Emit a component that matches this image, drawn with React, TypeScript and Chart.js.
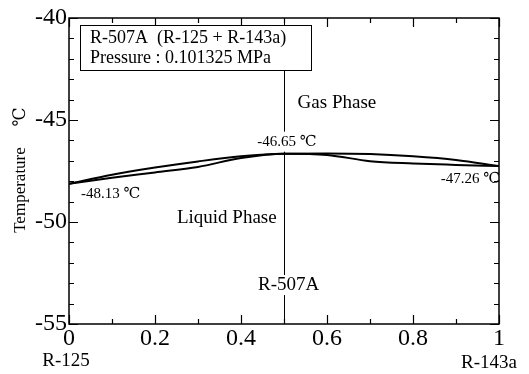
import React, { useEffect, useRef } from "react";
import { Chart, registerables } from "chart.js";

Chart.register(...registerables);

// ---- data ----
const composition = [0, 0.1, 0.2, 0.3, 0.4, 0.5, 0.6, 0.7, 0.8, 0.9, 1];
const dewTemps = [-48.13, -47.68, -47.33, -47.03, -46.78, -46.65, -46.64, -46.67, -46.78, -46.96, -47.26];
const bubbleTemps = [-48.13, -47.83, -47.57, -47.30, -46.86, -46.65, -46.71, -47.02, -47.13, -47.20, -47.26];
const xTickValues = [0, 0.2, 0.4, 0.6, 0.8, 1];
const yTickValues = [-55, -50, -45, -40];
const xMinorStep = 0.1;
const yMinorStep = 1;
const legendLines = ["R-507A  (R-125 + R-143a)", "Pressure : 0.101325 MPa"];
const azeotropeX = 0.5;
const azeotropeT = -46.65;
const leftT = -48.13;
const rightT = -47.26;
const yTitle = "Temperature";
const yUnit = "℃";
const leftComponent = "R-125";
const rightComponent = "R-143a";

const SERIF = '"Liberation Serif", "Times New Roman", "DejaVu Serif", serif';
const UNIT_FONT = '"Liberation Serif", "DejaVu Serif", "Noto Sans CJK JP", serif';

function textWithBg(ctx: CanvasRenderingContext2D, text: string, cx: number, cy: number, font: string, align: CanvasTextAlign, bg: boolean) {
  ctx.font = font;
  ctx.textAlign = align;
  ctx.textBaseline = "middle";
  if (bg) {
    const w = ctx.measureText(text).width;
    let left = cx;
    if (align === "center") left = cx - w / 2;
    else if (align === "right") left = cx - w;
    ctx.fillStyle = "#fff";
    ctx.fillRect(left - 2, cy - 10, w + 4, 20);
  }
  ctx.fillStyle = "#000";
  ctx.fillText(text, cx, cy);
}

const decorPlugin = {
  id: "decor",
  beforeDatasetsDraw(chart: any) {
    const { ctx, chartArea: a, scales } = chart;
    const x = scales.x;
    ctx.save();
    ctx.strokeStyle = "#000";
    ctx.lineWidth = 1;
    const xm = Math.round(x.getPixelForValue(azeotropeX)) + 0.5;
    ctx.beginPath();
    ctx.moveTo(xm, a.top);
    ctx.lineTo(xm, a.bottom);
    ctx.stroke();
    ctx.restore();
  },
  afterDatasetsDraw(chart: any) {
    const { ctx, chartArea: a, scales } = chart;
    const x = scales.x;
    const y = scales.y;
    ctx.save();
    // frame
    ctx.strokeStyle = "#000";
    ctx.lineWidth = 1.5;
    ctx.strokeRect(a.left, a.top, a.right - a.left, a.bottom - a.top);
    // y ticks (left/right)
    ctx.lineWidth = 1.2;
    ctx.beginPath();
    for (let v = y.min; v <= y.max + 1e-9; v += yMinorStep) {
      const p = Math.round(y.getPixelForValue(v)) + 0.5;
      const major = Math.abs(v % 5) < 1e-6;
      const len = major ? 9 : 5;
      ctx.moveTo(a.left, p);
      ctx.lineTo(a.left + len, p);
      ctx.moveTo(a.right, p);
      ctx.lineTo(a.right - len, p);
    }
    // x ticks (top/bottom)
    for (let i = 0; i <= Math.round((x.max - x.min) / xMinorStep); i++) {
      const v = x.min + i * xMinorStep;
      const p = Math.round(x.getPixelForValue(v)) + 0.5;
      const major = i % 2 === 0;
      const len = major ? 9 : 5;
      ctx.moveTo(p, a.bottom);
      ctx.lineTo(p, a.bottom - len);
      ctx.moveTo(p, a.top);
      ctx.lineTo(p, a.top + len);
    }
    ctx.stroke();

    // annotations
    const px = (v: number) => x.getPixelForValue(v);
    const py = (v: number) => y.getPixelForValue(v);
    textWithBg(ctx, "Gas Phase", px(0.623), py(-44.17), `19px ${SERIF}`, "center", false);
    textWithBg(ctx, "Liquid Phase", px(0.367), py(-49.8), `19px ${SERIF}`, "center", false);
    textWithBg(ctx, `${azeotropeT.toFixed(2)} ${yUnit}`, px(azeotropeX) + 3, py(azeotropeT) - 12, `15px ${UNIT_FONT}`, "center", true);
    textWithBg(ctx, `${leftT.toFixed(2)} ${yUnit}`, px(0) + 12, py(leftT) + 10, `15px ${UNIT_FONT}`, "left", false);
    textWithBg(ctx, `${rightT.toFixed(2)} ${yUnit}`, px(1) + 1, py(rightT) + 13, `15px ${UNIT_FONT}`, "right", false);
    textWithBg(ctx, "R-507A", px(0.511), py(-53.09), `19px ${SERIF}`, "center", true);

    // component labels under x axis ends
    textWithBg(ctx, leftComponent, px(0) - 3, 361, `19px ${SERIF}`, "center", false);
    textWithBg(ctx, rightComponent, px(1) - 10, 363, `19px ${SERIF}`, "center", false);

    // y title
    ctx.save();
    ctx.translate(21, 190);
    ctx.rotate(-Math.PI / 2);
    textWithBg(ctx, yTitle, 0, 0, `17px ${SERIF}`, "center", false);
    ctx.restore();
    ctx.save();
    ctx.translate(21, 117);
    ctx.rotate(-Math.PI / 2);
    textWithBg(ctx, yUnit, 0, 0, `17px ${UNIT_FONT}`, "center", false);
    ctx.restore();

    // legend box
    const bx = 80.5, by = 25.5, bw = 231, bh = 45;
    ctx.fillStyle = "#fff";
    ctx.fillRect(bx, by, bw, bh);
    ctx.strokeStyle = "#000";
    ctx.lineWidth = 1;
    ctx.strokeRect(bx, by, bw, bh);
    ctx.fillStyle = "#000";
    ctx.font = `18px ${SERIF}`;
    ctx.textAlign = "left";
    ctx.textBaseline = "middle";
    legendLines.forEach((t, i) => ctx.fillText(t, 90, 38 + i * 20));
    ctx.restore();
  },
};

export default function App() {
  const ref = useRef<HTMLCanvasElement | null>(null);
  useEffect(() => {
    document.body.style.margin = "0";
    const canvas = ref.current;
    if (!canvas) return;
    const chart = new Chart(canvas, {
      type: "line",
      data: {
        datasets: [
          {
            label: "Dew",
            data: composition.map((c, i) => ({ x: c, y: dewTemps[i] })),
            borderColor: "#000",
            borderWidth: 2,
            pointRadius: 0,
            cubicInterpolationMode: "monotone",
            fill: false,
          },
          {
            label: "Bubble",
            data: composition.map((c, i) => ({ x: c, y: bubbleTemps[i] })),
            borderColor: "#000",
            borderWidth: 2,
            pointRadius: 0,
            cubicInterpolationMode: "monotone",
            fill: false,
          },
        ],
      },
      options: {
        animation: false,
        responsive: false,
        maintainAspectRatio: false,
        layout: { padding: { top: 18, right: 30, left: 0, bottom: 0 } },
        plugins: { legend: { display: false }, tooltip: { enabled: false }, title: { display: false } },
        scales: {
          x: {
            type: "linear",
            min: 0,
            max: 1,
            afterBuildTicks: (s: any) => {
              s.ticks = xTickValues.map((v) => ({ value: v }));
            },
            afterFit: (s: any) => {
              s.height = 50;
              s.paddingLeft = 0;
              s.paddingRight = 0;
            },
            grid: { display: false, drawTicks: false },
            border: { display: false },
            ticks: {
              color: "#000",
              padding: 0,
              maxRotation: 0,
              autoSkip: false,
              font: { family: SERIF, size: 24 },
              callback: (v: any) => String(v),
            },
          },
          y: {
            type: "linear",
            min: -55,
            max: -40,
            afterBuildTicks: (s: any) => {
              s.ticks = yTickValues.map((v) => ({ value: v }));
            },
            afterFit: (s: any) => {
              s.width = 69;
              s.paddingTop = 0;
              s.paddingBottom = 0;
            },
            grid: { display: false, drawTicks: false },
            border: { display: false },
            ticks: {
              color: "#000",
              padding: 2,
              autoSkip: false,
              font: { family: SERIF, size: 24 },
              callback: (v: any) => String(v),
            },
          },
        },
      },
      plugins: [decorPlugin],
    } as any);
    return () => chart.destroy();
  }, []);
  return (
    <div style={{ width: 529, height: 374, background: "#fff" }}>
      <canvas ref={ref} width={529} height={374} style={{ display: "block" }} />
    </div>
  );
}
